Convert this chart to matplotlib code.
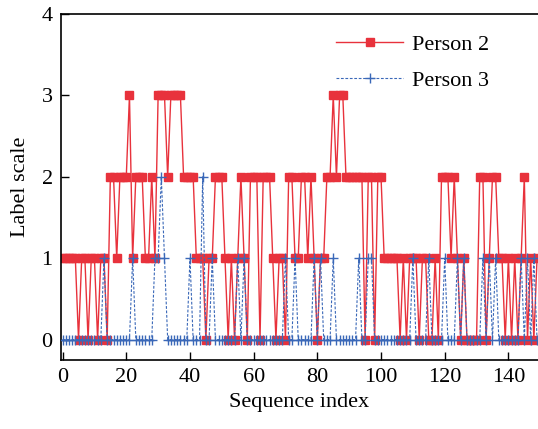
import numpy as np
import matplotlib.pyplot as plt

# label values, one per sequence index (0..149)
person2 = [1, 1, 1, 1, 1, 0, 1, 1, 0, 1,
           1, 0, 1, 1, 0, 2, 2, 1, 2, 2,
           2, 3, 1, 2, 2, 2, 1, 1, 2, 1,
           3, 3, 3, 2, 3, 3, 3, 3, 2, 2,
           2, 2, 1, 1, 1, 0, 1, 1, 2, 2,
           2, 1, 0, 1, 0, 1, 2, 1, 0, 2,
           2, 2, 0, 2, 2, 2, 1, 0, 1, 1,
           0, 2, 2, 1, 1, 2, 2, 1, 2, 1,
           0, 1, 1, 2, 2, 3, 2, 3, 3, 2,
           2, 2, 2, 2, 2, 0, 2, 2, 0, 2,
           2, 1, 1, 1, 1, 1, 0, 1, 0, 1,
           1, 1, 0, 1, 1, 0, 0, 1, 0, 2,
           2, 2, 1, 2, 1, 0, 1, 0, 0, 0,
           0, 2, 2, 0, 1, 2, 2, 1, 1, 0,
           1, 0, 1, 0, 1, 2, 0, 1, 0, 1]

person3_ones = [13, 22, 29, 30, 32, 40, 47, 55, 57, 70, 73, 79, 81, 85,
                93, 96, 97, 110, 115, 120, 124, 126, 132, 134, 136, 144,
                146, 148]
person3_twos = [31, 44]

seq = np.arange(len(person2))
person3 = np.zeros(len(person2), dtype=int)
person3[person3_ones] = 1
person3[person3_twos] = 2

plt.rcParams['font.family'] = ['Liberation Serif', 'DejaVu Serif']
plt.rcParams['font.size'] = 16

red = '#E8323C'
blue = '#3A68B8'

fig = plt.figure(figsize=(5.38, 4.29), dpi=100)
ax = fig.add_axes([61 / 538, 1 - 360 / 429, 1 - 61 / 538, (360 - 14) / 429])

ax.plot(seq, person2, color=red, lw=1.0, marker='s', ms=5.5,
        mec=red, mfc=red, label='Person 2', zorder=2)
ax.plot(seq, person3, color=blue, lw=0.8, ls=(0, (2.5, 1.5)), marker='+',
        ms=7, mew=1.0, label='Person 3', zorder=3)

ax.set_xlim(-0.5, 149.3)
ax.set_ylim(-0.25, 4)
ax.set_xticks(np.arange(0, 141, 20))
ax.set_yticks([0, 1, 2, 3, 4])
ax.tick_params(direction='in', length=6, width=1, top=False, right=False,
               labelsize=16, pad=6)
for s in ax.spines.values():
    s.set_linewidth(1.2)
ax.spines['right'].set_visible(False)

ax.set_xlabel('Sequence index', fontsize=16, labelpad=4)
ax.set_ylabel('Label scale', fontsize=16, labelpad=8)

ax.legend(loc='upper left', bbox_to_anchor=(0.535, 1.0), frameon=False,
          numpoints=1, handlelength=3.0, labelspacing=0.7, fontsize=16,
          handletextpad=0.4)

fig.savefig('out.png', dpi=100)
